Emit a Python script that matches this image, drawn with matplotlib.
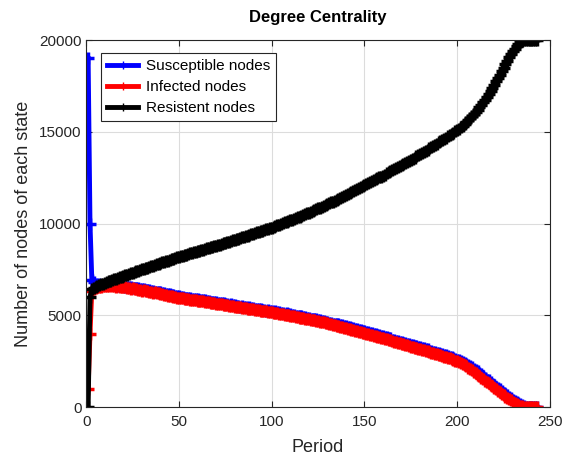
import matplotlib
matplotlib.use("Agg")
from matplotlib import pyplot as plt
import numpy as np

# values, one per period starting at period 1
susceptible = [
    19000, 10000, 6900, 6800, 6700, 6660, 6680, 6640, 6670, 6630,
    6680, 6660, 6660, 6670, 6630, 6630, 6620, 6610, 6590, 6580,
    6570, 6550, 6550, 6530, 6510, 6500, 6480, 6470, 6440, 6430,
    6410, 6400, 6370, 6360, 6330, 6330, 6290, 6290, 6260, 6250,
    6220, 6210, 6180, 6170, 6140, 6130, 6090, 6080, 6050, 6040,
    6000, 6000, 5970, 5960, 5940, 5930, 5910, 5900, 5870, 5870,
    5840, 5850, 5810, 5810, 5780, 5780, 5750, 5750, 5710, 5720,
    5680, 5690, 5650, 5650, 5610, 5620, 5580, 5590, 5540, 5560,
    5510, 5530, 5480, 5490, 5450, 5460, 5410, 5430, 5380, 5400,
    5350, 5370, 5320, 5330, 5290, 5300, 5260, 5270, 5230, 5240,
    5200, 5210, 5170, 5170, 5130, 5140, 5090, 5100, 5050, 5060,
    5010, 5020, 4980, 4980, 4940, 4940, 4900, 4900, 4860, 4860,
    4820, 4820, 4780, 4780, 4730, 4740, 4690, 4690, 4640, 4650,
    4590, 4600, 4550, 4550, 4500, 4510, 4450, 4460, 4400, 4400,
    4350, 4350, 4300, 4300, 4250, 4250, 4190, 4190, 4140, 4140,
    4080, 4080, 4030, 4030, 3970, 3970, 3910, 3910, 3860, 3850,
    3800, 3800, 3740, 3740, 3680, 3680, 3620, 3620, 3560, 3560,
    3500, 3500, 3440, 3440, 3380, 3380, 3320, 3320, 3260, 3260,
    3200, 3200, 3140, 3140, 3080, 3080, 3020, 3020, 2960, 2960,
    2900, 2890, 2840, 2830, 2780, 2750, 2710, 2670, 2630, 2590,
    2550, 2510, 2460, 2410, 2360, 2300, 2240, 2160, 2090, 2000,
    1940, 1830, 1780, 1670, 1610, 1500, 1450, 1340, 1280, 1180,
    1120, 1020, 960, 860, 790, 700, 640, 540, 490, 400,
    340, 250, 200, 140, 90, 50, 30, 15, 5, 0,
    0, 0, 0,
]

infected = [
    1000, 4000, 6350, 6440, 6490, 6520, 6550, 6570, 6590, 6600,
    6620, 6600, 6630, 6590, 6610, 6570, 6590, 6550, 6560, 6520,
    6530, 6490, 6510, 6460, 6470, 6430, 6440, 6390, 6400, 6350,
    6360, 6320, 6330, 6280, 6290, 6240, 6250, 6200, 6210, 6160,
    6170, 6120, 6110, 6080, 6070, 6030, 6020, 5990, 5970, 5950,
    5940, 5920, 5910, 5890, 5880, 5860, 5850, 5830, 5810, 5800,
    5790, 5770, 5760, 5740, 5720, 5710, 5690, 5670, 5660, 5640,
    5630, 5610, 5590, 5580, 5560, 5540, 5530, 5510, 5490, 5480,
    5460, 5450, 5430, 5410, 5400, 5380, 5360, 5350, 5330, 5320,
    5300, 5290, 5270, 5250, 5240, 5220, 5210, 5190, 5180, 5170,
    5150, 5130, 5110, 5090, 5080, 5060, 5040, 5020, 5000, 4980,
    4960, 4940, 4920, 4900, 4880, 4860, 4840, 4820, 4800, 4780,
    4760, 4740, 4720, 4700, 4670, 4650, 4630, 4610, 4580, 4560,
    4530, 4510, 4480, 4460, 4430, 4410, 4380, 4350, 4330, 4300,
    4270, 4250, 4220, 4190, 4170, 4140, 4110, 4080, 4060, 4030,
    4000, 3970, 3940, 3920, 3890, 3860, 3830, 3800, 3780, 3750,
    3720, 3690, 3660, 3630, 3600, 3570, 3540, 3510, 3480, 3450,
    3420, 3390, 3360, 3330, 3300, 3270, 3240, 3210, 3180, 3150,
    3120, 3090, 3060, 3030, 3000, 2970, 2940, 2910, 2880, 2850,
    2820, 2790, 2750, 2720, 2690, 2650, 2610, 2570, 2530, 2490,
    2450, 2400, 2340, 2280, 2215, 2150, 2080, 2005, 1925, 1845,
    1765, 1685, 1605, 1525, 1445, 1365, 1285, 1205, 1125, 1050,
    970, 890, 810, 730, 650, 570, 500, 430, 360, 290,
    230, 170, 120, 80, 50, 30, 15, 5, 0, 0,
    0, 0, 0,
]

resistent = [
    0, 6000, 6450, 6500, 6545, 6590, 6640, 6685, 6730, 6780,
    6815, 6850, 6890, 6925, 6965, 7000, 7040, 7075, 7110, 7150,
    7185, 7220, 7255, 7290, 7325, 7360, 7395, 7430, 7465, 7500,
    7535, 7570, 7605, 7640, 7675, 7710, 7745, 7780, 7815, 7850,
    7885, 7920, 7950, 7985, 8020, 8055, 8090, 8120, 8155, 8190,
    8220, 8250, 8280, 8310, 8340, 8370, 8400, 8430, 8460, 8490,
    8520, 8550, 8580, 8610, 8645, 8675, 8705, 8735, 8770, 8800,
    8830, 8860, 8895, 8925, 8960, 8990, 9020, 9055, 9085, 9120,
    9150, 9185, 9215, 9250, 9285, 9315, 9350, 9380, 9415, 9450,
    9480, 9515, 9550, 9580, 9615, 9650, 9680, 9715, 9745, 9780,
    9820, 9860, 9900, 9940, 9980, 10020, 10060, 10100, 10140, 10180,
    10220, 10260, 10300, 10340, 10385, 10425, 10470, 10510, 10555, 10600,
    10645, 10690, 10735, 10780, 10825, 10870, 10915, 10960, 11005, 11050,
    11100, 11150, 11200, 11250, 11300, 11350, 11405, 11455, 11510, 11560,
    11615, 11665, 11720, 11775, 11830, 11880, 11935, 11990, 12045, 12100,
    12150, 12200, 12250, 12305, 12355, 12410, 12460, 12515, 12565, 12620,
    12675, 12730, 12785, 12840, 12900, 12955, 13010, 13065, 13125, 13180,
    13240, 13300, 13360, 13420, 13480, 13540, 13600, 13660, 13720, 13780,
    13840, 13905, 13970, 14030, 14095, 14160, 14225, 14290, 14355, 14420,
    14485, 14550, 14620, 14685, 14755, 14820, 14890, 14960, 15030, 15100,
    15175, 15255, 15340, 15430, 15525, 15625, 15730, 15840, 15955, 16075,
    16200, 16330, 16465, 16605, 16750, 16900, 17060, 17225, 17395, 17570,
    17750, 17935, 18125, 18315, 18505, 18695, 18880, 19060, 19230, 19390,
    19540, 19675, 19790, 19885, 19950, 19985, 20000, 20000, 20000, 20000,
    20000, 20000, 20000,
]

period = np.arange(1, len(resistent) + 1)

plt.rcParams["font.family"] = ["Liberation Sans", "DejaVu Sans"]
txt = "#262626"

fig = plt.figure(figsize=(5.64, 4.61), dpi=100)
ax = fig.add_axes([0.153, 0.117, 0.822, 0.796])

style = dict(lw=3.5, ms=9, mew=2.5)
ax.plot(period, susceptible, "b-+", label="Susceptible nodes", **style)
ax.plot(period, infected, "r-+", label="Infected nodes", **style)
ax.plot(period, resistent, "k-+", label="Resistent nodes", **style)

ax.set_xlim(0, 250)
ax.set_ylim(0, 20000)
ax.set_xticks([0, 50, 100, 150, 200, 250])
ax.set_yticks([0, 5000, 10000, 15000, 20000])
ax.grid(True, color="#dcdcdc", lw=0.8)
ax.set_axisbelow(True)
ax.tick_params(direction="in", top=True, right=True, labelsize=11, colors=txt, length=4)
ax.tick_params(axis="x", pad=6)
for s in ax.spines.values():
    s.set_color(txt)
    s.set_linewidth(0.8)

ax.set_title("Degree Centrality", fontsize=12, fontweight="bold", pad=13)
ax.set_xlabel("Period", fontsize=13, color=txt, labelpad=7)
ax.set_ylabel("Number of nodes of each state", fontsize=13, color=txt, labelpad=5)

leg = ax.legend(loc="upper left", bbox_to_anchor=(0.016, 0.985), fontsize=11,
                fancybox=False, framealpha=1, edgecolor=txt, handlelength=2.0,
                handletextpad=0.5, borderpad=0.4, labelspacing=0.45)
leg.get_frame().set_linewidth(0.8)
for h in leg.get_lines():
    h.set_markersize(6)
    h.set_markeredgewidth(1)

fig.savefig("out.png", dpi=100)
